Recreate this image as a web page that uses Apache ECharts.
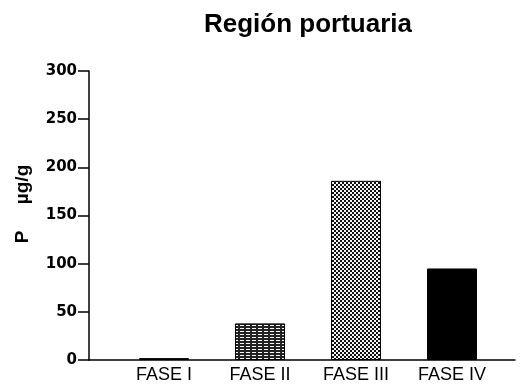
<!DOCTYPE html>
<html>
<head>
<meta charset="utf-8">
<script src="https://cdn.jsdelivr.net/npm/echarts@6/dist/echarts.min.js"></script>
<style>
  html, body { margin: 0; padding: 0; background: #fff; }
  #chart { width: 522px; height: 385px; }
</style>
</head>
<body>
<div id="chart"></div>
<script>
// Phosphorus content by phase, port region
const categories = ['FASE I', 'FASE II', 'FASE III', 'FASE IV'];
const values = [2, 38, 186, 95];
const yTicks = [0, 50, 100, 150, 200, 250, 300];

// Fill patterns for the bars
function makePattern(w, h, draw) {
  const c = document.createElement('canvas');
  c.width = w; c.height = h;
  const ctx = c.getContext('2d');
  draw(ctx);
  return { image: c, repeat: 'repeat' };
}
const hLines = makePattern(6, 3, ctx => {
  ctx.fillStyle = '#222'; ctx.fillRect(0, 0, 6, 3);
  ctx.fillStyle = '#fff'; ctx.fillRect(0, 1, 4, 1);
});
const checker = makePattern(4, 4, ctx => {
  ctx.fillStyle = '#f4f4f4'; ctx.fillRect(0, 0, 4, 4);
  ctx.fillStyle = '#111';
  ctx.fillRect(0, 0, 2, 2); ctx.fillRect(2, 2, 2, 2);
});
const fills = ['#ffffff', hLines, checker, '#000000'];

const chart = echarts.init(document.getElementById('chart'), null, { renderer: 'canvas' });
const yMin = yTicks[0], yMax = yTicks[yTicks.length - 1];
const sans = 'Liberation Sans, Arial, sans-serif';
const wide = 'DejaVu Sans, sans-serif';

chart.setOption({
  animation: false,
  title: {
    text: 'Región portuaria',
    left: 303, top: 7, textAlign: 'center',
    textStyle: { fontFamily: sans, fontWeight: 'bold', fontSize: 26, color: '#000' }
  },
  graphic: [{
    type: 'text',
    x: 23, y: 204, rotation: Math.PI / 2,
    style: {
      text: 'P     µg/g',
      fontFamily: sans, fontWeight: 'bold', fontSize: 19, fill: '#000',
      align: 'center', verticalAlign: 'middle'
    }
  }],
  grid: [
    { left: 89, top: 71, width: 426, height: 289 },
    { left: 116, top: 71, width: 384, height: 289 }
  ],
  xAxis: [
    {
      gridIndex: 0, type: 'value', min: 0, max: 1,
      axisLine: { show: true, lineStyle: { color: '#000', width: 1.5 } },
      axisTick: { show: false }, axisLabel: { show: false }, splitLine: { show: false }
    },
    {
      gridIndex: 1, type: 'category', data: categories,
      axisLine: { show: false }, axisTick: { show: false },
      axisLabel: { margin: 6, fontFamily: sans, fontSize: 18, color: '#000' }
    }
  ],
  yAxis: [
    {
      gridIndex: 0, type: 'value', min: yMin, max: yMax, interval: 50,
      axisLine: { show: true, lineStyle: { color: '#000', width: 1.5 } },
      axisTick: { show: true, inside: false, length: 11, lineStyle: { color: '#000', width: 1.5 } },
      axisLabel: { margin: 12, fontFamily: wide, fontWeight: 'bold', fontSize: 15, color: '#000' },
      splitLine: { show: false }
    },
    {
      gridIndex: 1, type: 'value', min: yMin, max: yMax, show: false
    }
  ],
  series: [{
    type: 'bar',
    xAxisIndex: 1, yAxisIndex: 1,
    barWidth: 50,
    data: values.map((v, i) => ({
      value: v,
      itemStyle: { color: fills[i], borderColor: '#000', borderWidth: 1 }
    }))
  }]
});
</script>
</body>
</html>
